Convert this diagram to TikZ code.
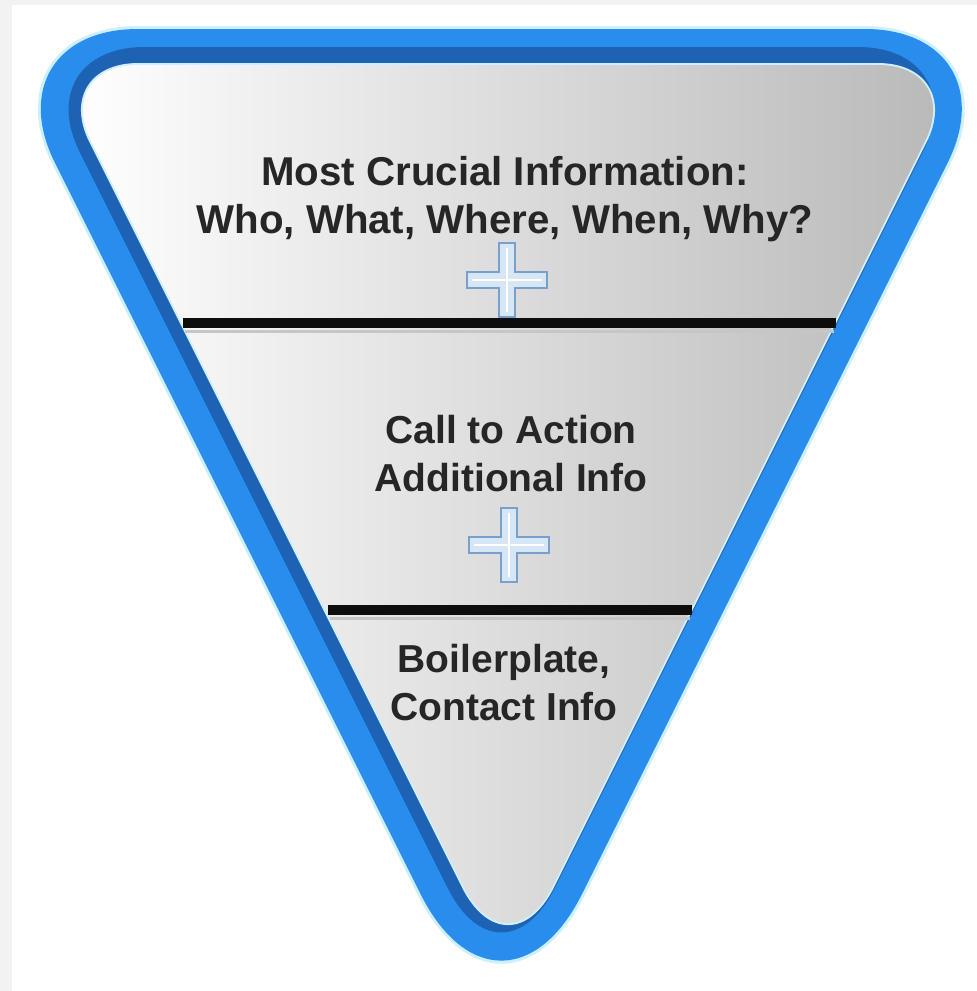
\documentclass[tikz,border=0pt]{standalone}
\usepackage{fontspec}
\setmainfont{Liberation Sans}
\usepackage{xcolor}
\usepackage{tikz}
\usetikzlibrary{
    calc
}

\definecolor{rimblue}{RGB}{40,141,236}
\definecolor{rimdark}{RGB}{30,98,180}
\definecolor{rimglow}{RGB}{205,240,252}
\definecolor{plusfill}{RGB}{214,230,244}
\definecolor{plusedge}{RGB}{120,160,202}

\newcommand{\px}{0.02cm}
% inverted triangle: #1 style, pushed out from the inner edge by
% #2 px on top, #3 px on the left side, #4 px on the right side
\newcommand{\funnel}[4]{%
    \pgfmathsetmacro\fT{65-#2}
    \pgfmathsetmacro\fL{53-0.5*#2-1.118*#3}
    \pgfmathsetmacro\fR{963+0.5*#2+1.118*#4}
    \pgfmathsetmacro\fBx{508+0.559*(#4-#3)}
    \pgfmathsetmacro\fBy{975+1.118*(#3+#4)}
    \pgfmathsetmacro\fb{99+1.135*(#3+#4)}
    \pgfmathsetmacro\ft{85+1.8*#2}
    \path[#1] (\fL+\ft,\fT) -- (\fR-\ft,\fT)
        .. controls (\fR-0.45*\ft,\fT) and (\fR-0.201*\ft,\fT+0.402*\ft)
        .. (\fR-0.447*\ft,\fT+0.894*\ft)
        -- (\fBx+0.447*\fb,\fBy-0.894*\fb)
        .. controls (\fBx+0.201*\fb,\fBy-0.402*\fb) and (\fBx-0.201*\fb,\fBy-0.402*\fb)
        .. (\fBx-0.447*\fb,\fBy-0.894*\fb)
        -- (\fL+0.447*\ft,\fT+0.894*\ft)
        .. controls (\fL+0.201*\ft,\fT+0.402*\ft) and (\fL+0.45*\ft,\fT) .. cycle;}

\tikzset{
    rimhalo/.style={fill=rimglow},
    rim/.style={fill=rimblue},
    rimshade/.style={fill=rimdark},
    rimedge/.style={fill=rimglow},
    body/.style={shade, left color=white, right color=gray!55},
    divider/.style={draw=black!95, line width=10*\px},
    dividershade/.style={draw=gray!45, line width=3*\px},
    plusbar/.style={fill=plusfill, draw=plusedge, line width=2*\px},
    blurb/.style={font=\fontsize{22.2pt}{27.3pt}\selectfont\bfseries,
        align=center, inner sep=0pt, anchor=north, text=black!85}
}

\begin{document}
\begin{tikzpicture}[x=\px, y=-\px]
        \useasboundingbox (0,0) rectangle (977,991);
        \fill[gray!10] (0,0) rectangle (977,991);
        \fill[white] (12,5) rectangle (977,991);

        % rim, then body
        \funnel{rimhalo}{39}{45}{33}
        \funnel{rim}{36}{42}{30}
        \funnel{rimshade}{18}{15}{3}
        \funnel{rimedge}{2}{2}{2}
        \funnel{body}{0}{0}{0}

        % dividers
        \draw[dividershade] (185,331) -- (834,331);
        \draw[divider] (183,323) -- (836,323);
        \draw[dividershade] (330,618) -- (690,618);
        \draw[divider] (328,610) -- (692,610);

        % plus marks
        \coordinate (plusA) at (507,280);
        \coordinate (plusB) at (509,545);
        \foreach \p in {plusA,plusB}{
            \draw[plusbar, shift={(\p)}] (-8,-37) -- (8,-37) -- (8,-8) -- (40,-8)
                -- (40,8) -- (8,8) -- (8,37) -- (-8,37) -- (-8,8) -- (-40,8)
                -- (-40,-8) -- (-8,-8) -- cycle;
            \draw[white, line width=2*\px, shift={(\p)}] (0,-32) -- (0,32) (-35,0) -- (35,0);
        }

        \draw (505,156) node[blurb, font=\fontsize{22.9pt}{27.3pt}\selectfont\bfseries](crucial){Most Crucial Information:\\Who, What, Where, When, Why?};
        \draw (511,415) node[blurb](action){Call to Action\\Additional Info};
        \draw (504,644) node[blurb](boiler){Boilerplate,\\Contact Info};
    \end{tikzpicture}
\end{document}
